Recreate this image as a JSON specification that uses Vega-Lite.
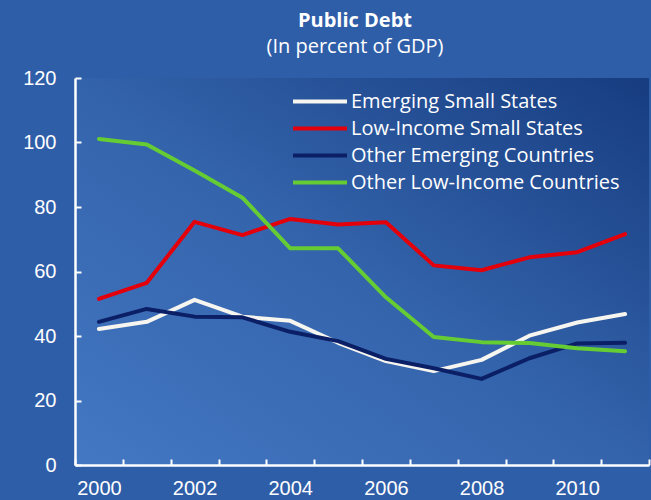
{
  "$schema": "https://vega.github.io/schema/vega-lite/v6.json",
  "width": 574,
  "height": 387,
  "autosize": {"type": "none"},
  "padding": {"left": 75, "top": 78, "right": 2, "bottom": 35},
  "background": "#2f5ea8",
  "title": {
    "text": "Public Debt",
    "subtitle": "(In percent of GDP)",
    "anchor": "middle",
    "dx": -7,
    "offset": 11,
    "font": "Open Sans",
    "fontSize": 20,
    "fontWeight": "bold",
    "color": "white",
    "subtitleFont": "Open Sans",
    "subtitleFontSize": 20,
    "subtitleColor": "white",
    "subtitlePadding": 6
  },
  "data": {
    "values": [
      {"year": 2000, "group": "Emerging Small States", "value": 42.2},
      {"year": 2001, "group": "Emerging Small States", "value": 44.4},
      {"year": 2002, "group": "Emerging Small States", "value": 51.2},
      {"year": 2003, "group": "Emerging Small States", "value": 46.0},
      {"year": 2004, "group": "Emerging Small States", "value": 44.7},
      {"year": 2005, "group": "Emerging Small States", "value": 37.9},
      {"year": 2006, "group": "Emerging Small States", "value": 32.2},
      {"year": 2007, "group": "Emerging Small States", "value": 29.1},
      {"year": 2008, "group": "Emerging Small States", "value": 32.6},
      {"year": 2009, "group": "Emerging Small States", "value": 40.1},
      {"year": 2010, "group": "Emerging Small States", "value": 44.2},
      {"year": 2011, "group": "Emerging Small States", "value": 46.8},
      {"year": 2000, "group": "Low-Income Small States", "value": 51.5},
      {"year": 2001, "group": "Low-Income Small States", "value": 56.5},
      {"year": 2002, "group": "Low-Income Small States", "value": 75.4},
      {"year": 2003, "group": "Low-Income Small States", "value": 71.3},
      {"year": 2004, "group": "Low-Income Small States", "value": 76.3},
      {"year": 2005, "group": "Low-Income Small States", "value": 74.6},
      {"year": 2006, "group": "Low-Income Small States", "value": 75.3},
      {"year": 2007, "group": "Low-Income Small States", "value": 61.9},
      {"year": 2008, "group": "Low-Income Small States", "value": 60.4},
      {"year": 2009, "group": "Low-Income Small States", "value": 64.4},
      {"year": 2010, "group": "Low-Income Small States", "value": 66.0},
      {"year": 2011, "group": "Low-Income Small States", "value": 71.6},
      {"year": 2000, "group": "Other Emerging Countries", "value": 44.4},
      {"year": 2001, "group": "Other Emerging Countries", "value": 48.4},
      {"year": 2002, "group": "Other Emerging Countries", "value": 46.0},
      {"year": 2003, "group": "Other Emerging Countries", "value": 45.8},
      {"year": 2004, "group": "Other Emerging Countries", "value": 41.3},
      {"year": 2005, "group": "Other Emerging Countries", "value": 38.4},
      {"year": 2006, "group": "Other Emerging Countries", "value": 32.9},
      {"year": 2007, "group": "Other Emerging Countries", "value": 30.0},
      {"year": 2008, "group": "Other Emerging Countries", "value": 26.7},
      {"year": 2009, "group": "Other Emerging Countries", "value": 33.1},
      {"year": 2010, "group": "Other Emerging Countries", "value": 37.7},
      {"year": 2011, "group": "Other Emerging Countries", "value": 37.9},
      {"year": 2000, "group": "Other Low-Income Countries", "value": 101.1},
      {"year": 2001, "group": "Other Low-Income Countries", "value": 99.4},
      {"year": 2002, "group": "Other Low-Income Countries", "value": 91.3},
      {"year": 2003, "group": "Other Low-Income Countries", "value": 82.9},
      {"year": 2004, "group": "Other Low-Income Countries", "value": 67.2},
      {"year": 2005, "group": "Other Low-Income Countries", "value": 67.2},
      {"year": 2006, "group": "Other Low-Income Countries", "value": 52.0},
      {"year": 2007, "group": "Other Low-Income Countries", "value": 39.7},
      {"year": 2008, "group": "Other Low-Income Countries", "value": 38.1},
      {"year": 2009, "group": "Other Low-Income Countries", "value": 37.8},
      {"year": 2010, "group": "Other Low-Income Countries", "value": 36.2},
      {"year": 2011, "group": "Other Low-Income Countries", "value": 35.3}
    ]
  },
  "mark": {"type": "line", "strokeWidth": 4, "strokeCap": "round", "strokeJoin": "round"},
  "encoding": {
    "x": {
      "field": "year",
      "type": "ordinal",
      "bandPosition": 0.5,
      "scale": {"type": "band", "paddingInner": 0, "paddingOuter": 0},
      "axis": {
        "title": null,
        "labelAngle": 0,
        "tickBand": "extent",
        "labelExpr": "datum.value % 2 == 0 ? datum.label : ''",
        "labelFont": "Liberation Sans",
        "labelFontSize": 20,
        "labelColor": "white",
        "labelPadding": 13,
        "labelBaseline": "top",
        "ticks": false,
        "domainColor": "white",
        "domainWidth": 2.5,
        "grid": true,
        "gridColor": "white",
        "gridOpacity": 1,
        "gridWidth": 2,
        "gridDash": [6, 381],
        "gridDashOffset": 6
      }
    },
    "y": {
      "field": "value",
      "type": "quantitative",
      "scale": {"domain": [0, 120], "nice": false},
      "axis": {
        "title": null,
        "values": [0, 20, 40, 60, 80, 100, 120],
        "labelFont": "Liberation Sans",
        "labelFontSize": 20,
        "labelColor": "white",
        "labelPadding": 19,
        "ticks": false,
        "domainColor": "white",
        "domainWidth": 2.5,
        "grid": true,
        "gridColor": "white",
        "gridOpacity": 1,
        "gridWidth": 2,
        "gridDash": [6, 1000]
      }
    },
    "color": {
      "field": "group",
      "type": "nominal",
      "scale": {
        "domain": ["Emerging Small States", "Low-Income Small States", "Other Emerging Countries", "Other Low-Income Countries"],
        "range": ["#f7f5ef", "#e3000b", "#0b1f66", "#66cc33"]
      },
      "legend": {
        "title": null,
        "orient": "none",
        "legendX": 216,
        "legendY": 10,
        "padding": 0,
        "symbolType": "stroke",
        "symbolSize": 2916,
        "symbolStrokeWidth": 4,
        "clipHeight": 27,
        "rowPadding": 0,
        "labelOffset": 2,
        "labelFont": "Open Sans",
        "labelFontSize": 20,
        "labelColor": "white",
        "labelLimit": 400
      }
    }
  },
  "config": {
    "view": {
      "stroke": null,
      "fill": {
        "gradient": "linear",
        "x1": 0, "y1": 1, "x2": 1, "y2": 0,
        "stops": [
          {"offset": 0, "color": "#4478c3"},
          {"offset": 0.5, "color": "#3363ab"},
          {"offset": 1, "color": "#173c80"}
        ]
      }
    }
  }
}
